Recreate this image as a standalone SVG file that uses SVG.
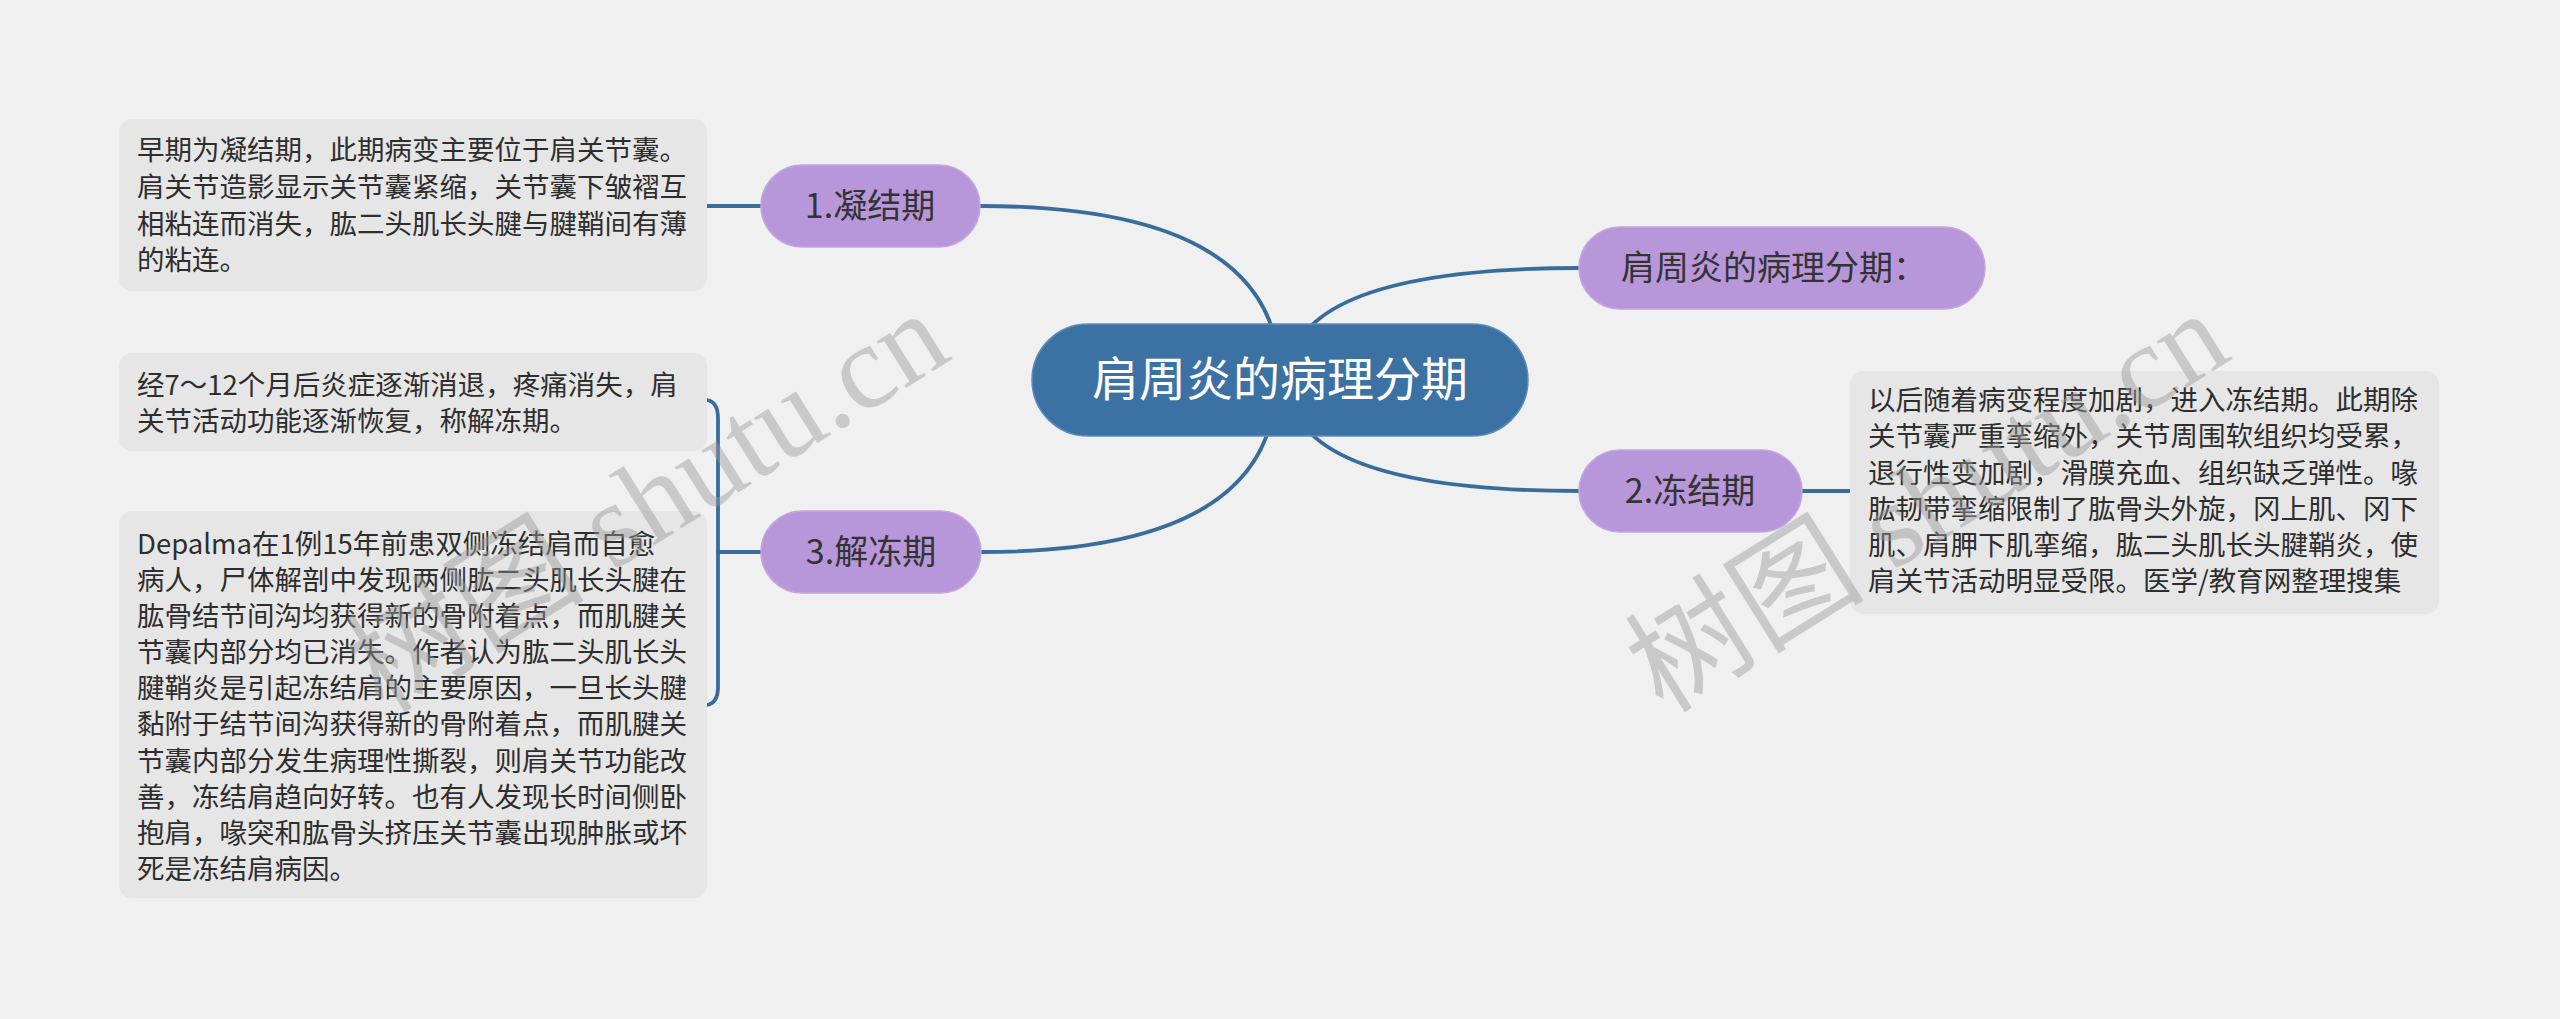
<svg xmlns="http://www.w3.org/2000/svg" width="2560" height="1019" viewBox="0 0 2560 1019">
<style>
.bg{fill:#f0f0f0}
.box{fill:#e6e6e6}
.sub{fill:#b797d9;stroke:#c3a7e1;stroke-width:1.5}
.root{fill:#3c72a3;stroke:#5d8cb8;stroke-width:1.5}
.t{font-family:"Noto Sans CJK SC","Liberation Sans",sans-serif;font-size:27.5px;fill:#2e2e2e}
.st{font-family:"Noto Sans CJK SC","Liberation Sans",sans-serif;font-size:34px;fill:#333333}
.rt{font-family:"Noto Sans CJK SC","Liberation Sans",sans-serif;font-size:47px;fill:#ffffff}
.ln{fill:none;stroke:#3a6c9b;stroke-width:3.8;stroke-linecap:round}
.wm{font-family:"Liberation Serif","Noto Sans CJK SC",serif;font-size:120px;fill:#9a9a9a;opacity:0.45}
</style>
<rect class="bg" x="0" y="0" width="2560" height="1019"/>
<g id="connectors">
<path class="ln" d="M1280 380 Q1280 206 980 206"/>
<path class="ln" d="M1276 380 Q1276 552 981 552"/>
<path class="ln" d="M1288 380 Q1288 268 1579 268"/>
<path class="ln" d="M1288 380 Q1288 491 1579 491"/>
<path class="ln" d="M761 206 L707 206"/>
<path class="ln" d="M1802 491 L1850 491"/>
<path class="ln" d="M707 400 Q718 402 718 418 L718 687 Q718 703 707 705"/>
<path class="ln" d="M718 552 L761 552"/>
</g>
<g id="root">
<rect class="root" x="1032" y="324" width="496" height="112" rx="56"/>
<text class="rt" x="1280" y="396" text-anchor="middle">肩周炎的病理分期</text>
</g>
<g id="n-title">
<rect class="sub" x="1579" y="227" width="406" height="82" rx="41"/>
<text class="st" x="1621" y="280">肩周炎的病理分期：</text>
</g>
<g id="n1">
<rect class="sub" x="761" y="165" width="219" height="82" rx="41"/>
<text class="st" x="870" y="218" text-anchor="middle">1.凝结期</text>
</g>
<g id="n2">
<rect class="sub" x="1579" y="450" width="223" height="82" rx="41"/>
<text class="st" x="1690" y="503" text-anchor="middle">2.冻结期</text>
</g>
<g id="n3">
<rect class="sub" x="761" y="511" width="220" height="82" rx="41"/>
<text class="st" x="871" y="564" text-anchor="middle">3.解冻期</text>
</g>
<g id="b1">
<rect class="box" x="119" y="119" width="588" height="172" rx="13"/>
<text class="t" x="137" y="160">早期为凝结期，此期病变主要位于肩关节囊。</text>
<text class="t" x="137" y="197">肩关节造影显示关节囊紧缩，关节囊下皱褶互</text>
<text class="t" x="137" y="234">相粘连而消失，肱二头肌长头腱与腱鞘间有薄</text>
<text class="t" x="137" y="270">的粘连。</text>
</g>
<g id="b2">
<rect class="box" x="119" y="353" width="588" height="98" rx="13"/>
<text class="t" x="137" y="395">经7～12个月后炎症逐渐消退，疼痛消失，肩</text>
<text class="t" x="137" y="431">关节活动功能逐渐恢复，称解冻期。</text>
</g>
<g id="b3">
<rect class="box" x="119" y="511" width="588" height="387" rx="13"/>
<text class="t" x="137" y="554">Depalma在1例15年前患双侧冻结肩而自愈</text>
<text class="t" x="137" y="590">病人，尸体解剖中发现两侧肱二头肌长头腱在</text>
<text class="t" x="137" y="626">肱骨结节间沟均获得新的骨附着点，而肌腱关</text>
<text class="t" x="137" y="662">节囊内部分均已消失。作者认为肱二头肌长头</text>
<text class="t" x="137" y="698">腱鞘炎是引起冻结肩的主要原因，一旦长头腱</text>
<text class="t" x="137" y="734">黏附于结节间沟获得新的骨附着点，而肌腱关</text>
<text class="t" x="137" y="771">节囊内部分发生病理性撕裂，则肩关节功能改</text>
<text class="t" x="137" y="807">善，冻结肩趋向好转。也有人发现长时间侧卧</text>
<text class="t" x="137" y="843">抱肩，喙突和肱骨头挤压关节囊出现肿胀或坏</text>
<text class="t" x="137" y="879">死是冻结肩病因。</text>
</g>
<g id="b4">
<rect class="box" x="1850" y="371" width="589" height="243" rx="13"/>
<text class="t" x="1868" y="410">以后随着病变程度加剧，进入冻结期。此期除</text>
<text class="t" x="1868" y="446">关节囊严重挛缩外，关节周围软组织均受累，</text>
<text class="t" x="1868" y="483">退行性变加剧，滑膜充血、组织缺乏弹性。喙</text>
<text class="t" x="1868" y="519">肱韧带挛缩限制了肱骨头外旋，冈上肌、冈下</text>
<text class="t" x="1868" y="555">肌、肩胛下肌挛缩，肱二头肌长头腱鞘炎，使</text>
<text class="t" x="1868" y="591">肩关节活动明显受限。医学/教育网整理搜集</text>
</g>
<g id="watermark">
<text class="wm" x="655" y="540" text-anchor="middle" transform="rotate(-32 655 514)">树图 shutu.cn</text>
<text class="wm" x="1935" y="540" text-anchor="middle" transform="rotate(-32 1935 514)">树图 shutu.cn</text>
</g>
</svg>
